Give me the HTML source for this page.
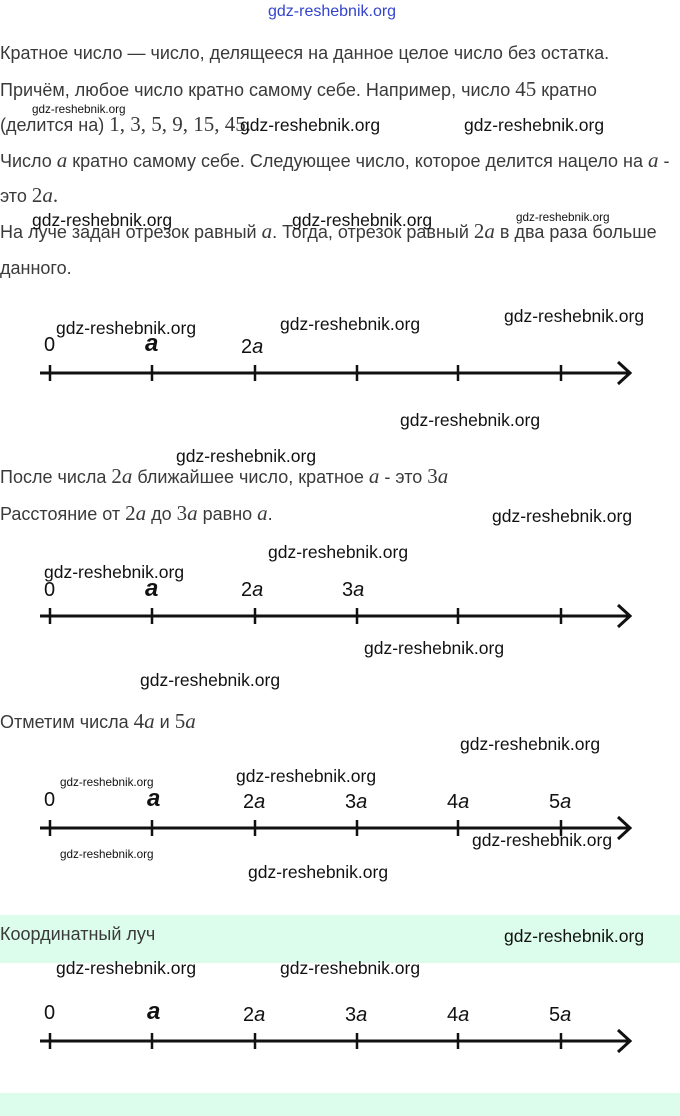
<!DOCTYPE html>
<html><head><meta charset="utf-8"><style>
body{margin:0;width:680px;height:1116px;position:relative;background:#fff;overflow:hidden;font-family:"Liberation Sans",sans-serif;}
.t{position:absolute;left:0;font-size:18px;color:#3a3a3a;white-space:nowrap;line-height:22px;}
.m{font-family:"Liberation Serif",serif;font-size:21px;}
.mi{font-family:"Liberation Serif",serif;font-style:italic;font-size:21px;}
.w{position:absolute;font-size:17.5px;color:#111;white-space:nowrap;line-height:18px;}
.ws{position:absolute;font-size:11.7px;color:#111;white-space:nowrap;}
.band{position:absolute;left:0;width:680px;background:#dcfdeb;}
</style></head><body>
<div class="band" style="top:915px;height:48px"></div>
<div class="band" style="top:1093px;height:23px"></div>
<div class="w" style="left:268px;top:3px;color:#3344cc;font-size:16px">gdz-reshebnik.org</div>
<div class="t" style="top:42px">Кратное число — число, делящееся на данное целое число без остатка.</div>
<div class="t" style="top:78px">Причём, любое число кратно самому себе. Например, число <span class="m">45</span> кратно</div>
<div class="t" style="top:113px">(делится на) <span class="m">1, 3, 5, 9, 15, 45.</span></div>
<div class="t" style="top:149px">Число <span class="mi">a</span> кратно самому себе. Следующее число, которое делится нацело на <span class="mi">a</span> -</div>
<div class="t" style="top:184px">это <span class="m">2<i>a</i>.</span></div>
<div class="t" style="top:220px">На луче задан отрезок равный <span class="mi">a</span>. Тогда, отрезок равный <span class="m">2<i>a</i></span> в два раза больше</div>
<div class="t" style="top:257px">данного.</div>
<div class="t" style="top:465px">После числа <span class="m">2<i>a</i></span> ближайшее число, кратное <span class="mi">a</span> - это <span class="m">3<i>a</i></span></div>
<div class="t" style="top:502px">Расстояние от <span class="m">2<i>a</i></span> до <span class="m">3<i>a</i></span> равно <span class="mi">a</span>.</div>
<div class="t" style="top:710px">Отметим числа <span class="m">4<i>a</i></span> и <span class="m">5<i>a</i></span></div>
<div class="t" style="top:923px;font-size:18px">Координатный луч</div>

<svg style="position:absolute;left:0;top:0" width="680" height="1116" font-family="Liberation Sans, sans-serif" font-size="20" fill="#111">
<g stroke="#111" stroke-width="3" fill="none">
<line x1="40" y1="373" x2="628" y2="373"/><polyline points="618,362 630,373 618,384"/>
<line x1="40" y1="616" x2="628" y2="616"/><polyline points="618,605 630,616 618,627"/>
<line x1="40" y1="828" x2="628" y2="828"/><polyline points="618,817 630,828 618,839"/>
<line x1="40" y1="1041" x2="628" y2="1041"/><polyline points="618,1030 630,1041 618,1052"/>
<g stroke-width="2.5">
<path d="M50 365v16M152 365v16M255 365v16M357 365v16M458 365v16M561 365v16"/>
<path d="M50 608v16M152 608v16M255 608v16M357 608v16M458 608v16M561 608v16"/>
<path d="M50 820v16M152 820v16M255 820v16M357 820v16M458 820v16M561 820v16"/>
<path d="M50 1033v16M152 1033v16M255 1033v16M357 1033v16M458 1033v16M561 1033v16"/>
</g></g>
<g>
<text x="44" y="351">0</text><text x="145" y="351" font-style="italic" font-size="24" font-weight="bold">a</text><text x="241" y="353">2<tspan font-style="italic">a</tspan></text>
<text x="44" y="596">0</text><text x="145" y="596" font-style="italic" font-size="24" font-weight="bold">a</text><text x="241" y="596">2<tspan font-style="italic">a</tspan></text><text x="342" y="596">3<tspan font-style="italic">a</tspan></text>
<text x="44" y="806">0</text><text x="147" y="806" font-style="italic" font-size="24" font-weight="bold">a</text><text x="243" y="808">2<tspan font-style="italic">a</tspan></text><text x="345" y="808">3<tspan font-style="italic">a</tspan></text><text x="447" y="808">4<tspan font-style="italic">a</tspan></text><text x="549" y="808">5<tspan font-style="italic">a</tspan></text>
<text x="44" y="1019">0</text><text x="147" y="1019" font-style="italic" font-size="24" font-weight="bold">a</text><text x="243" y="1021">2<tspan font-style="italic">a</tspan></text><text x="345" y="1021">3<tspan font-style="italic">a</tspan></text><text x="447" y="1021">4<tspan font-style="italic">a</tspan></text><text x="549" y="1021">5<tspan font-style="italic">a</tspan></text>
</g></svg>

<div class="ws" style="left:32px;top:103px">gdz-reshebnik.org</div>
<div class="w" style="left:240px;top:116px">gdz-reshebnik.org</div>
<div class="w" style="left:464px;top:116px">gdz-reshebnik.org</div>
<div class="w" style="left:32px;top:211px">gdz-reshebnik.org</div>
<div class="w" style="left:292px;top:211px">gdz-reshebnik.org</div>
<div class="ws" style="left:516px;top:211px">gdz-reshebnik.org</div>
<div class="w" style="left:56px;top:319px">gdz-reshebnik.org</div>
<div class="w" style="left:280px;top:315px">gdz-reshebnik.org</div>
<div class="w" style="left:504px;top:307px">gdz-reshebnik.org</div>
<div class="w" style="left:400px;top:411px">gdz-reshebnik.org</div>
<div class="w" style="left:176px;top:447px">gdz-reshebnik.org</div>
<div class="w" style="left:492px;top:507px">gdz-reshebnik.org</div>
<div class="w" style="left:268px;top:543px">gdz-reshebnik.org</div>
<div class="w" style="left:44px;top:563px">gdz-reshebnik.org</div>
<div class="w" style="left:364px;top:639px">gdz-reshebnik.org</div>
<div class="w" style="left:140px;top:671px">gdz-reshebnik.org</div>
<div class="w" style="left:460px;top:735px">gdz-reshebnik.org</div>
<div class="w" style="left:236px;top:767px">gdz-reshebnik.org</div>
<div class="ws" style="left:60px;top:776px">gdz-reshebnik.org</div>
<div class="w" style="left:472px;top:831px">gdz-reshebnik.org</div>
<div class="ws" style="left:60px;top:848px">gdz-reshebnik.org</div>
<div class="w" style="left:248px;top:863px">gdz-reshebnik.org</div>
<div class="w" style="left:504px;top:927px">gdz-reshebnik.org</div>
<div class="w" style="left:56px;top:959px">gdz-reshebnik.org</div>
<div class="w" style="left:280px;top:959px">gdz-reshebnik.org</div>
</body></html>
